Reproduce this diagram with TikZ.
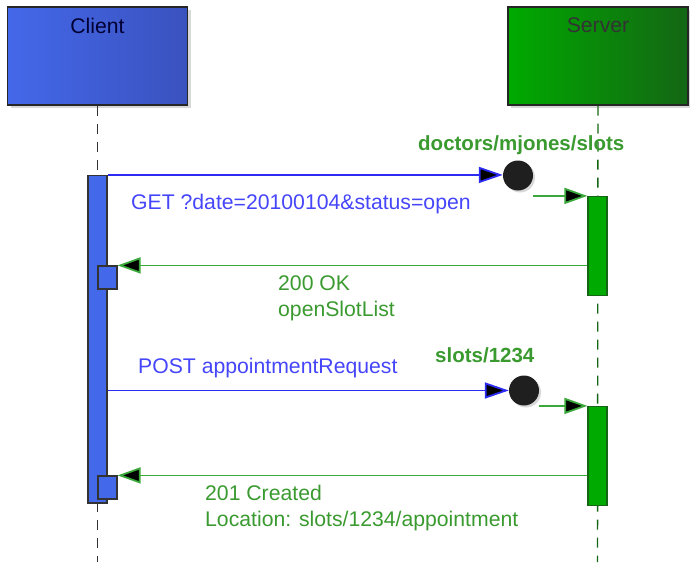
\documentclass[tikz,border=0pt]{standalone}
\usepackage{fontspec}
\setmainfont{Liberation Sans}
\usetikzlibrary{arrows.meta,shadows,positioning}

\definecolor{clientblue}{HTML}{4468EA}
\definecolor{clientdark}{HTML}{3A52BE}
\definecolor{servergreen}{HTML}{00AA00}
\definecolor{serverdark}{HTML}{146614}
\definecolor{msgblue}{HTML}{2B2BF2}
\definecolor{msggreen}{HTML}{3AA83A}
\definecolor{txtblue}{HTML}{4545FA}
\definecolor{txtgreen}{HTML}{3A9A30}

\begin{document}
\begin{tikzpicture}[x=1pt, y=-1pt,
  every node/.style={font=\fontsize{21.2}{25.5}\selectfont},
  actor/.style={draw=black!85, line width=1.4pt, minimum width=180pt, minimum height=98pt,
    drop shadow={shadow xshift=3pt, shadow yshift=-3pt, fill=black!30}},
  bar/.style={draw=black!80, line width=1.2pt, minimum width=19pt, inner sep=0pt},
  resource/.style={circle, fill=black!88, minimum size=30pt, inner sep=0pt,
    drop shadow={shadow xshift=2pt, shadow yshift=-2pt, fill=black!30}},
  lifeline/.style={line width=1.4pt, dash pattern=on 10pt off 8pt},
  msg/.style={draw=msgblue, line width=1.8pt, -{Triangle[length=24pt, width=16pt, fill=black]}},
  reply/.style={draw=msggreen, line width=1.8pt, -{Triangle[length=23pt, width=16pt, fill=black]}},
  bluetxt/.style={text=txtblue, anchor=base west, inner sep=0pt},
  greentxt/.style={text=txtgreen, anchor=base west, inner sep=0pt, align=left},
  greenbold/.style={text=txtgreen, anchor=base west, inner sep=0pt, font=\fontsize{20.5}{25.5}\selectfont\bfseries}]

  \useasboundingbox (0,0) rectangle (690,562);

  % participants
  \node[actor, left color=clientblue, middle color=clientblue, right color=clientdark,
    label={[anchor=north, yshift=-8pt, text=black!80!blue]north:Client}] (client) at (97.5,56) {};
  \node[actor, left color=servergreen, middle color=servergreen, right color=serverdark,
    label={[anchor=north, yshift=-8pt, text=black!80]north:Server}] (server) at (598,56) {};

  \coordinate (cend) at (97.5,562);
  \coordinate (send) at (597.5,562);
  \draw[lifeline, black!80] (client.south) -- (cend);
  \draw[lifeline, serverdark] (server.south) -- (send);

  % activation bars
  \node[bar, fill=clientblue, minimum height=327.5pt] (cbar) at (97.5,339.3) {};
  \node[bar, fill=clientblue, minimum height=23pt] (cret1) at (107.5,277.5) {};
  \node[bar, fill=clientblue, minimum height=23pt] (cret2) at (107.5,487.5) {};
  \node[bar, fill=servergreen, draw=serverdark, minimum height=99pt] (sbar1) at (597.5,246) {};
  \node[bar, fill=servergreen, draw=serverdark, minimum height=99pt] (sbar2) at (597.5,456) {};

  % resources
  \node[resource] (slots) at (518,175.5) {};
  \node[resource] (slot1234) at (524,390.5) {};

  % messages
  \draw[msg] (cbar.north east) -- (cbar.north east -| slots.west);
  \draw[reply] (sbar1.north west -| slots.east) -- (sbar1.north west);
  \draw[reply] (sbar1.west |- cret1.north east) -- (cret1.north east);
  \draw[msg] (cbar.east |- slot1234) -- (slot1234.west);
  \draw[reply] (sbar2.north west -| slot1234.east) -- (sbar2.north west);
  \draw[reply] (sbar2.west |- cret2.north east) -- (cret2.north east);

  % labels
  \node[greenbold] (slotsname) at (418,150) {doctors/mjones/slots};
  \node[bluetxt] (getlbl) at (131,209) {GET ?date=20100104\&status=open};
  \node[greentxt] (oklbl) at (278,316) {200 OK\\openSlotList};
  \node[bluetxt] (postlbl) at (138,373) {POST appointmentRequest};
  \node[greenbold] (slotname) at (435,362) {slots/1234};
  \node[greentxt] (createdlbl) at (205,526) {201 Created\\Location: slots/1234/appointment};
\end{tikzpicture}
\end{document}
